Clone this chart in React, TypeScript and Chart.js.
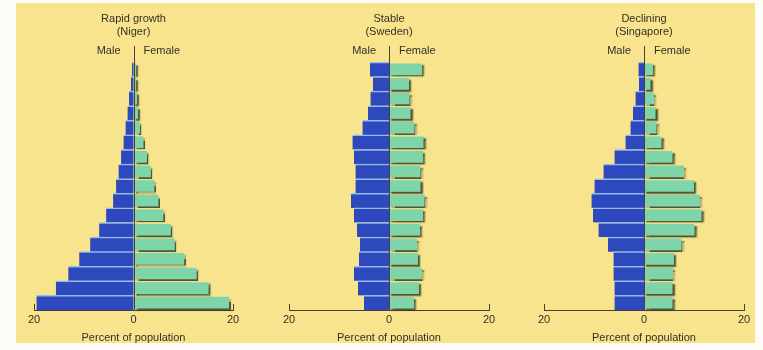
import React, { useEffect, useRef } from "react";
import { Chart, registerables } from "chart.js";

Chart.register(...registerables);

// Age groups, top row first (oldest) down to youngest
const AGE_GROUPS = [
  "80+", "75–79", "70–74", "65–69", "60–64", "55–59", "50–54", "45–49", "40–44",
  "35–39", "30–34", "25–29", "20–24", "15–19", "10–14", "5–9", "0–4",
];

// Percent of population (male values as positive magnitudes)
const NIGER_MALE = [0.3, 0.5, 0.9, 1.2, 1.6, 2.0, 2.5, 3.0, 3.5, 4.1, 5.5, 6.9, 8.7, 10.9, 13.1, 15.6, 19.5];
const NIGER_FEMALE = [0.5, 0.5, 0.7, 0.9, 1.3, 2.0, 2.7, 3.5, 4.2, 5.0, 6.0, 7.5, 8.3, 10.2, 12.7, 15.1, 19.2];

const SWEDEN_MALE = [3.8, 3.2, 3.7, 4.2, 5.3, 7.3, 7.0, 6.7, 6.7, 7.6, 7.0, 6.4, 5.8, 6.0, 7.0, 6.2, 5.0];
const SWEDEN_FEMALE = [6.6, 4.0, 4.1, 4.3, 5.1, 6.9, 6.8, 6.3, 6.3, 7.1, 6.8, 6.2, 5.6, 5.8, 6.6, 6.0, 5.0];

const SINGAPORE_MALE = [1.1, 1.0, 1.7, 2.2, 2.7, 3.7, 5.9, 8.1, 9.9, 10.5, 10.2, 9.1, 7.2, 6.1, 6.1, 5.9, 5.9];
const SINGAPORE_FEMALE = [1.8, 1.3, 2.0, 2.3, 2.5, 3.5, 5.7, 8.0, 10.0, 11.2, 11.5, 10.1, 7.5, 6.0, 5.8, 5.7, 5.7];

const X_MIN = -20;
const X_MAX = 20;
const X_STEP = 20;
const SEX_LABELS = ["Male", "Female"];
const AXIS_TITLE = "Percent of population";

const FONT = '"Liberation Sans", Arial, Helvetica, sans-serif';
const MALE_COLOR = "#2e49bd";
const MALE_SEP = "#93bcec";
const FEMALE_COLOR = "#7ed5aa";
const FEMALE_SHADOW = "rgba(50, 62, 38, 0.85)";
const AXIS_COLOR = "#4a4035";
const TEXT_COLOR = "#333027";
const PAPER = "#f8e48c";

type PanelProps = {
  title: string;
  subtitle: string;
  male: number[];
  female: number[];
  left: number;
  width: number;
  padLeft: number;
  padRight: number;
};

function Panel({ title, subtitle, male, female, left, width, padLeft, padRight }: PanelProps) {
  const ref = useRef<HTMLCanvasElement | null>(null);

  useEffect(() => {
    if (!ref.current) return;

    const shadowPlugin = {
      id: "femaleShadow",
      beforeDatasetDraw(chart: any, args: any) {
        if (args.index !== 1) return;
        const ctx = chart.ctx;
        ctx.save();
        ctx.shadowColor = FEMALE_SHADOW;
        ctx.shadowOffsetX = 2;
        ctx.shadowOffsetY = 2;
        ctx.shadowBlur = 1.5;
      },
      afterDatasetDraw(chart: any, args: any) {
        if (args.index !== 1) return;
        chart.ctx.restore();
      },
    };

    const decorPlugin = {
      id: "pyramidDecor",
      afterDraw(chart: any) {
        const ctx = chart.ctx;
        const x = chart.scales.x;
        const area = chart.chartArea;
        const zero = x.getPixelForValue(0);
        ctx.save();
        // center line
        ctx.strokeStyle = AXIS_COLOR;
        ctx.lineWidth = 1;
        ctx.beginPath();
        ctx.moveTo(Math.round(zero) + 0.5, 46);
        ctx.lineTo(Math.round(zero) + 0.5, area.bottom);
        ctx.stroke();
        // end ticks
        [X_MIN, X_MAX].forEach((v) => {
          const px = Math.round(x.getPixelForValue(v)) + 0.5;
          ctx.beginPath();
          ctx.moveTo(px, area.bottom);
          ctx.lineTo(px, area.bottom - 6);
          ctx.stroke();
        });
        // titles
        ctx.fillStyle = TEXT_COLOR;
        ctx.font = `11px ${FONT}`;
        ctx.textAlign = "center";
        ctx.textBaseline = "middle";
        ctx.fillText(title, zero, 19);
        ctx.fillText(subtitle, zero, 32);
        ctx.textAlign = "right";
        ctx.fillText(SEX_LABELS[0], zero - 13, 51);
        ctx.textAlign = "left";
        ctx.fillText(SEX_LABELS[1], zero + 10, 51);
        ctx.restore();
      },
    };

    const chart = new Chart(ref.current, {
      type: "bar",
      data: {
        labels: AGE_GROUPS,
        datasets: [
          {
            label: SEX_LABELS[0],
            data: male.map((v) => -v),
            backgroundColor: MALE_COLOR,
            borderColor: MALE_SEP,
            borderWidth: { top: 1.5, bottom: 0, left: 0, right: 0 },
            borderSkipped: false,
            barPercentage: 1,
            categoryPercentage: 1,
          },
          {
            label: SEX_LABELS[1],
            data: female,
            backgroundColor: FEMALE_COLOR,
            borderWidth: 0,
            barPercentage: 0.8,
            categoryPercentage: 1,
            clip: false,
          } as any,
        ],
      },
      options: {
        indexAxis: "y",
        animation: false,
        responsive: false,
        maintainAspectRatio: false,
        layout: { padding: { left: padLeft, right: padRight, top: 62, bottom: 5.6 } },
        plugins: {
          legend: { display: false },
          tooltip: { enabled: false },
          title: { display: false },
        },
        scales: {
          x: {
            type: "linear",
            min: X_MIN,
            max: X_MAX,
            stacked: true,
            grid: { display: false, drawTicks: false },
            border: { display: true, color: AXIS_COLOR, width: 1 },
            ticks: {
              stepSize: X_STEP,
              autoSkip: false,
              maxRotation: 0,
              padding: 3,
              color: TEXT_COLOR,
              font: { size: 11, family: FONT },
              callback: (v: any) => String(Math.abs(Number(v))),
            },
            title: {
              display: true,
              text: AXIS_TITLE,
              color: TEXT_COLOR,
              font: { size: 11, family: FONT },
              padding: { top: 2, bottom: 0 },
            },
          },
          y: { stacked: true, display: false },
        },
      },
      plugins: [shadowPlugin, decorPlugin],
    } as any);

    return () => chart.destroy();
  }, [title, subtitle, male, female, padLeft, padRight]);

  return (
    <canvas
      ref={ref}
      width={width}
      height={350}
      style={{ position: "absolute", left, top: 0, width, height: 350, display: "block" }}
    />
  );
}

export default function App() {
  return (
    <div style={{ position: "absolute", left: 0, top: 0, width: 763, height: 350, background: "#fdfcf6", overflow: "hidden" }}>
      <div style={{ position: "absolute", left: 16, top: 3, width: 739, height: 340, background: PAPER }} />
      <Panel title="Rapid growth" subtitle="(Niger)" male={NIGER_MALE} female={NIGER_FEMALE} left={0} width={254} padLeft={34} padRight={21} />
      <Panel title="Stable" subtitle="(Sweden)" male={SWEDEN_MALE} female={SWEDEN_FEMALE} left={254} width={254} padLeft={35} padRight={19} />
      <Panel title="Declining" subtitle="(Singapore)" male={SINGAPORE_MALE} female={SINGAPORE_FEMALE} left={508} width={255} padLeft={36} padRight={19} />
    </div>
  );
}
